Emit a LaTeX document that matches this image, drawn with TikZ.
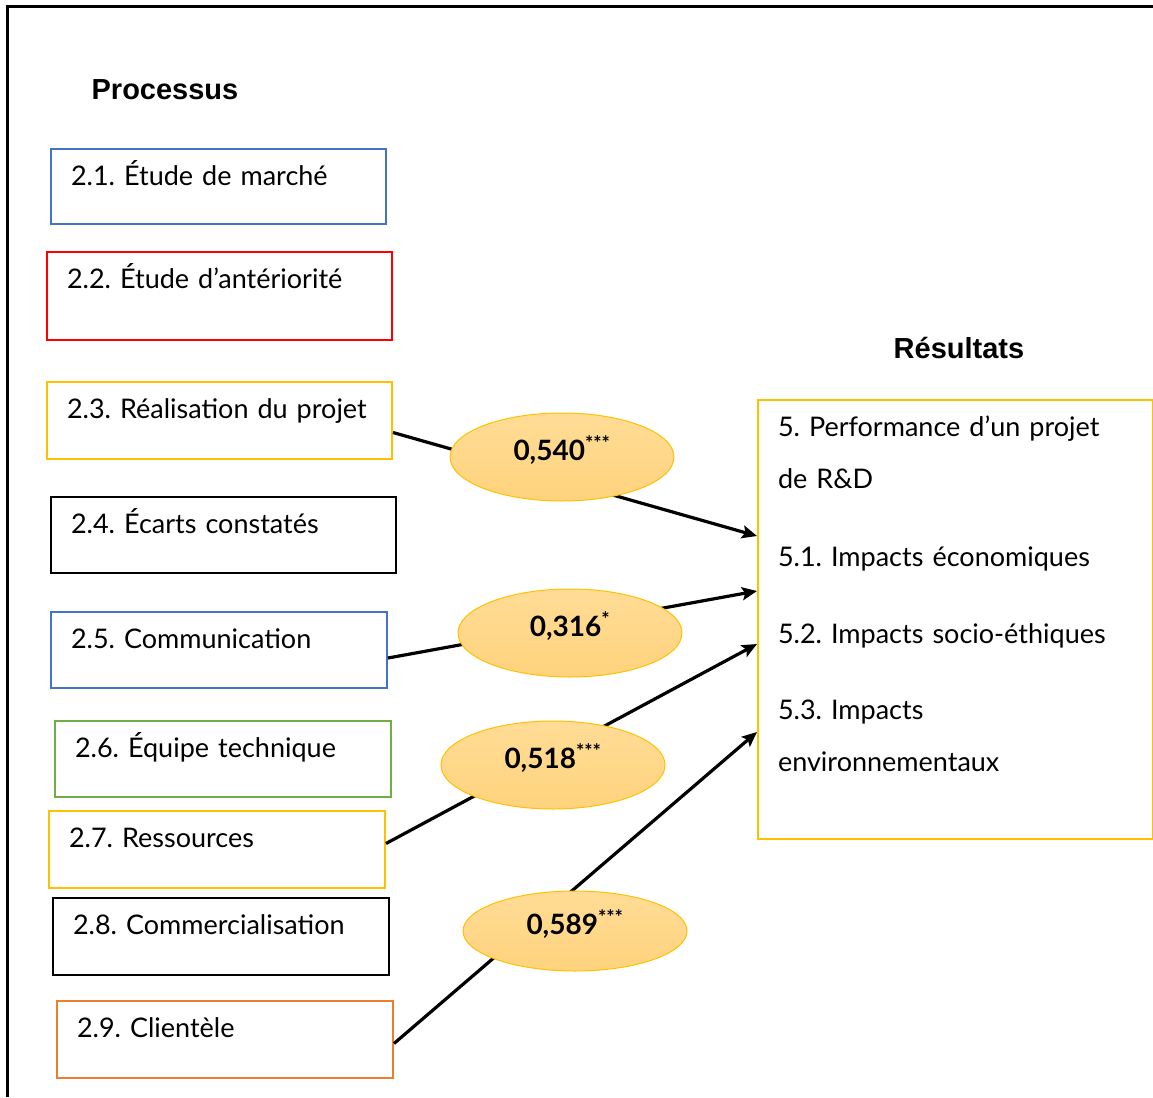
\documentclass[tikz,border=0pt]{standalone}
\usepackage{fontspec}
\setmainfont{Lato}
\newfontfamily\headfont{Liberation Sans}
\usetikzlibrary{arrows.meta, shapes.geometric}
\definecolor{boxblue}{RGB}{68,114,196}
\definecolor{boxred}{RGB}{255,0,0}
\definecolor{boxgold}{RGB}{255,192,0}
\definecolor{boxgreen}{RGB}{112,173,71}
\definecolor{boxorange}{RGB}{237,125,49}
\definecolor{coeftop}{RGB}{255,220,150}
\definecolor{coefbot}{RGB}{255,211,125}
\frenchspacing

\begin{document}
\begin{tikzpicture}[
    x=1pt, y=-1pt,
    procbox/.style={rectangle, draw=#1, line width=2pt, anchor=north west,
                inner xsep=20pt, inner ysep=0pt, text height=36pt, text depth=40pt,
                align=left, font=\fontsize{27}{32}\selectfont},
    coef/.style={ellipse, draw=boxgold, line width=1pt, top color=coeftop, bottom color=coefbot,
                minimum width=224pt, minimum height=88pt, inner sep=0pt,
                text height=15pt, text depth=9pt, font=\bfseries\fontsize{28}{30}\selectfont},
    heading/.style={font=\headfont\bfseries\fontsize{29}{32}\selectfont},
    arrow/.style={-{Stealth[length=15pt, width=13pt, inset=3pt]}, line width=3.2pt}
]
\useasboundingbox (0,0) rectangle (1153,1097);
\draw[line width=3pt] (7,1097) -- (7,7) -- (1153,7);

% Headings
\node[heading] (proc) at (165,90) {Processus};
\node[heading] (resu) at (959,348) {Résultats};

% Process boxes
\node[procbox=boxblue, text width=295pt, text depth=39pt] (b1) at (50,148) {2.1. Étude de marché};
\node[procbox=boxred, text width=305pt, text depth=52pt] (b2) at (46,251) {2.2. Étude d’antériorité};
\node[procbox=boxgold, text width=305pt, text depth=41pt] (b3) at (46,381) {2.3. Réalisation du projet};
\node[procbox=black, text width=305pt] (b4) at (50,496) {2.4. Écarts constatés};
\node[procbox=boxblue, text width=296pt] (b5) at (50,611) {2.5. Communication};
\node[procbox=boxgreen, text width=296pt] (b6) at (54,720) {2.6. Équipe technique};
\node[procbox=boxgold, text width=296pt, text depth=41pt] (b7) at (48,810) {2.7. Ressources};
\node[procbox=black, text width=296pt, text depth=41pt] (b8) at (52,897) {2.8. Commercialisation};
\node[procbox=boxorange, text width=296pt, text depth=41pt] (b9) at (56,1000) {2.9. Clientèle};

% Result box
\node[procbox=boxgold, text width=355pt, text height=36pt, text depth=403pt,
      font=\fontsize{27}{52}\selectfont] (perf) at (757,399)
  {5. Performance d’un projet\\ de R\&D\\[26pt]
   5.1. Impacts économiques\\[25pt]
   5.2. Impacts socio-éthiques\\[24pt]
   5.3. Impacts\\ environnementaux};

% Paths
\draw[arrow] ([yshift=-12pt]b3.east) -- ([yshift=83.5pt]perf.west);
\draw[arrow] ([yshift=-8pt]b5.east) -- ([yshift=28.5pt]perf.west);
\draw[arrow] ([yshift=6pt]b7.east) -- ([yshift=-24.5pt]perf.west);
\draw[arrow] ([yshift=-4pt]b9.east) -- ([yshift=-112.5pt]perf.west);

% Coefficients
\node[coef] (c1) at (562,457) {0,540\textsuperscript{***}};
\node[coef] (c2) at (570,633) {0,316\textsuperscript{*}};
\node[coef] (c3) at (553,765) {0,518\textsuperscript{***}};
\node[coef, minimum height=80pt] (c4) at (575,931) {0,589\textsuperscript{***}};

\end{tikzpicture}
\end{document}
